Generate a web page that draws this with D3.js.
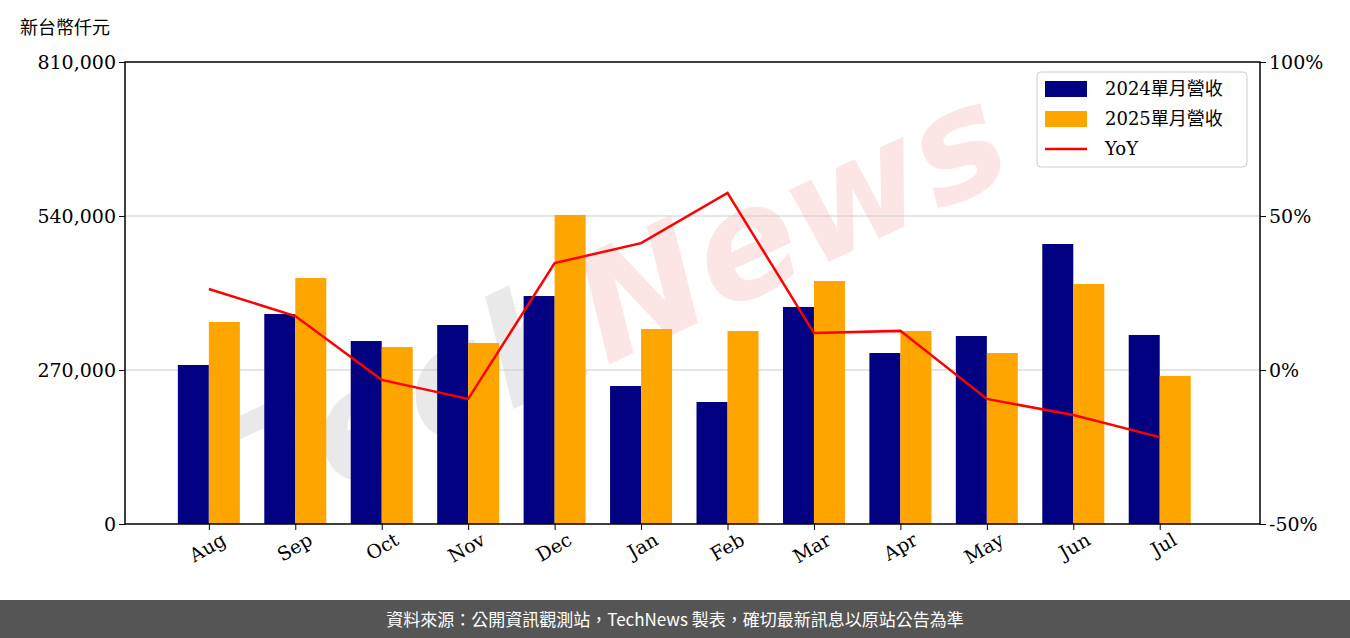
<!DOCTYPE html>
<html><head><meta charset="utf-8">
<script src="https://cdn.jsdelivr.net/npm/d3@7"></script>
<style>body{margin:0;background:#fff}</style>
</head><body>
<div id="chart"></div>
<script>
const months = ['Aug','Sep','Oct','Nov','Dec','Jan','Feb','Mar','Apr','May','Jun','Jul'];
const rev2024 = [278800,368200,320800,348900,399700,241900,213900,380500,299800,329600,490900,331400];
const rev2025 = [354200,431300,310300,317300,541800,341900,338400,426000,338400,299800,420800,259500];
const yoy = [26.3,17.5,-3.2,-9.4,34.7,41.2,57.5,12.0,12.7,-9.4,-14.6,-21.8];
const leftTicks = [0,270000,540000,810000];
const rightTicks = [-50,0,50,100];

const W = 1350, H = 638;
const m = {left:125, right:1260, top:62, bottom:524};
const font = "'DejaVu Serif','Noto Sans CJK TC',serif";

const svg = d3.select('#chart').append('svg').attr('width',W).attr('height',H);

const x = d3.scaleLinear().domain([-0.97,12.16]).range([m.left,m.right]);
const y = d3.scaleLinear().domain([0,810000]).range([m.bottom,m.top]);
const y2 = d3.scaleLinear().domain([-50,100]).range([m.bottom,m.top]);
const bw = 31;

// watermark
const wm = svg.append('text').attr('x',640).attr('y',350)
  .attr('transform','rotate(-25,640,350)')
  .attr('text-anchor','middle')
  .style('font-family',"'DejaVu Sans',sans-serif").style('font-style','italic')
  .style('font-size','150px').style('font-weight','bold').attr('opacity',0.12);
wm.append('tspan').attr('fill','#555').text('Tech');
wm.append('tspan').attr('fill','#e03030').text('News');

// grid
svg.append('g').selectAll('line').data([270000,540000]).enter().append('line')
  .attr('x1',m.left).attr('x2',m.right).attr('y1',d=>y(d)).attr('y2',d=>y(d))
  .attr('stroke','#ccc').attr('stroke-width',1.2);

// bars
svg.append('g').selectAll('rect').data(rev2024).enter().append('rect')
  .attr('x',(d,i)=>x(i)-bw).attr('y',d=>y(d)).attr('width',bw).attr('height',d=>y(0)-y(d))
  .attr('fill','#000080');
svg.append('g').selectAll('rect').data(rev2025).enter().append('rect')
  .attr('x',(d,i)=>x(i)).attr('y',d=>y(d)).attr('width',bw).attr('height',d=>y(0)-y(d))
  .attr('fill','#ffa500');

// line
svg.append('path').datum(yoy)
  .attr('d',d3.line().x((d,i)=>x(i)).y(d=>y2(d)))
  .attr('fill','none').attr('stroke','#ff0000').attr('stroke-width',2.5);

// frame
svg.append('rect').attr('x',m.left).attr('y',m.top).attr('width',m.right-m.left).attr('height',m.bottom-m.top)
  .attr('fill','none').attr('stroke','#000').attr('stroke-width',1.5);

// axes
const ax = svg.append('g').attr('transform',`translate(${m.left},0)`)
  .call(d3.axisLeft(y).tickValues(leftTicks).tickFormat(d3.format(',')).tickSize(6));
const ax2 = svg.append('g').attr('transform',`translate(${m.right},0)`)
  .call(d3.axisRight(y2).tickValues(rightTicks).tickFormat(d=>d+'%').tickSize(6));
const ax3 = svg.append('g').attr('transform',`translate(0,${m.bottom})`)
  .call(d3.axisBottom(x).tickValues(d3.range(12)).tickFormat(i=>months[i]).tickSize(6));
[ax,ax2,ax3].forEach(a=>{
  a.select('.domain').remove();
  a.selectAll('text').style('font-family',font).style('font-size','19px').attr('fill','#000');
});
ax3.selectAll('text').attr('text-anchor','end').attr('dx','0.3em').attr('dy','0.9em')
  .attr('transform','rotate(-30)');

// unit label
svg.append('text').attr('x',20).attr('y',34).style('font-family',"'Noto Sans CJK TC',sans-serif")
  .style('font-size','18px').text('新台幣仟元');

// legend
const lg = svg.append('g').attr('transform','translate(1037,72)');
lg.append('rect').attr('width',210).attr('height',95).attr('rx',4)
  .attr('fill','#fff').attr('fill-opacity',0.85).attr('stroke','#ccc');
const items = [{t:'2024單月營收',c:'#000080'},{t:'2025單月營收',c:'#ffa500'},{t:'YoY',c:'#ff0000',line:true}];
items.forEach((it,i)=>{
  const yy = 17 + i*30;
  if(it.line) lg.append('line').attr('x1',8).attr('x2',50).attr('y1',yy).attr('y2',yy).attr('stroke',it.c).attr('stroke-width',2.5);
  else lg.append('rect').attr('x',8).attr('y',yy-8).attr('width',42).attr('height',16).attr('fill',it.c);
  lg.append('text').attr('x',68).attr('y',yy+6).style('font-family',font).style('font-size','18px').text(it.t);
});

// footer
svg.append('rect').attr('x',0).attr('y',600).attr('width',W).attr('height',38).attr('fill','#555');
svg.append('text').attr('x',W/2).attr('y',626).attr('text-anchor','middle').attr('fill','#fff')
  .style('font-family',"'Noto Sans CJK TC',sans-serif").style('font-size','17px')
  .text('資料來源：公開資訊觀測站，TechNews 製表，確切最新訊息以原站公告為準');
</script>
</body></html>
